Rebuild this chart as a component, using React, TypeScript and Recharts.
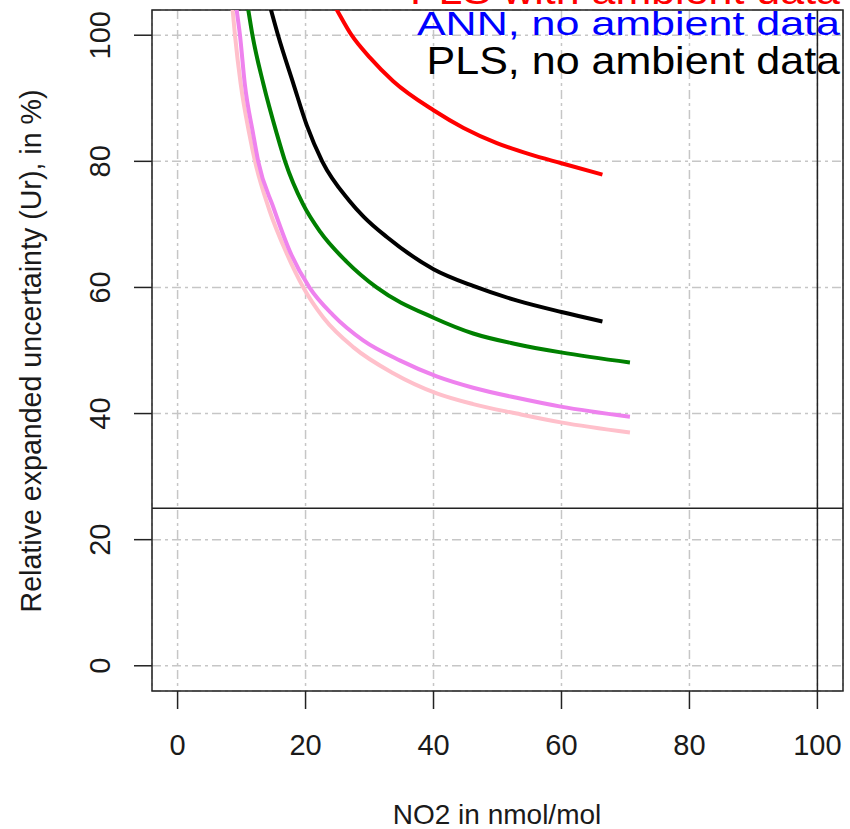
import React from "react";
import {
  LineChart, Line, XAxis, YAxis, CartesianGrid, ReferenceLine, ReferenceArea, Customized,
} from "recharts";

const FONT = "'Liberation Sans', Arial, sans-serif";

// axis ticks
const xTicks = [0, 20, 40, 60, 80, 100];
const yTicks = [0, 20, 40, 60, 80, 100];

// curves (NO2 in nmol/mol -> Ur in %)
const redX = [23, 24.9, 27.2, 30.1, 33.7, 40, 44.7, 49.9, 55.1, 60, 66.4];
const redY = [107.5, 104, 100, 96.4, 92.7, 88.1, 85.3, 82.9, 81.1, 79.7, 77.9];

const blackX = [13.5, 14.6, 15.7, 18.1, 20.2, 22.6, 26.8, 29.1, 32.7, 40, 46.3, 53.1, 60, 66.4];
const blackY = [108, 104, 100, 92.3, 85.7, 80, 73.8, 71.2, 68, 62.9, 60.2, 57.9, 56.1, 54.6];

const greenX = [10.3, 11.05, 11.7, 13.4, 15.5, 16.8, 19.6, 22.3, 26.4, 31.1, 40, 46.2, 53, 59.9, 70.7];
const greenY = [108.5, 104, 100, 92.3, 84.4, 80, 73.2, 68.8, 64.1, 60, 55.2, 52.7, 51, 49.7, 48.1];

const violetX = [8.8, 9.24, 9.75, 10.5, 11.8, 12.6, 15, 17.6, 20.6, 24.3, 29, 34.8, 40.5, 46.2, 53, 59.9, 70.7];
const violetY = [108, 104, 100, 92.3, 84.4, 80, 72.6, 65.6, 60, 55.6, 51.6, 48.4, 45.9, 44.1, 42.5, 41.1, 39.5];

const pinkX = [8.2, 8.6, 8.97, 9.86, 11.2, 12.1, 14.3, 17.05, 19.65, 22.8, 27.5, 33.7, 40.5, 46.2, 53, 59.9, 70.7];
const pinkY = [108, 104, 100, 92.3, 84.4, 80, 72.4, 65.4, 60, 55.2, 50.5, 46.4, 43.2, 41.5, 40, 38.6, 37];

const legendLabels = ["PLS with ambient data", "ANN, no ambient data", "PLS, no ambient data"];
const legendColors = ["#ff0000", "#0000ff", "#000000"];

const zip = (xs: number[], ys: number[]) => xs.map((x, i) => ({ x, y: ys[i] }));

const series = [
  { key: "pink", color: "#ffc0cb", data: zip(pinkX, pinkY) },
  { key: "violet", color: "#ee82ee", data: zip(violetX, violetY) },
  { key: "green", color: "#008000", data: zip(greenX, greenY) },
  { key: "black", color: "#000000", data: zip(blackX, blackY) },
  { key: "red", color: "#ff0000", data: zip(redX, redY) },
];

const XTick = (props: any) => {
  const { x, y, payload } = props;
  return (
    <text x={x} y={y + 46} textAnchor="middle" fontSize={29} fontFamily={FONT} fill="#1a1a1a">
      {payload.value}
    </text>
  );
};

const YTick = (props: any) => {
  const { x, y, payload } = props;
  const bx = x - 24;
  return (
    <text
      x={bx}
      y={y}
      transform={`rotate(-90 ${bx} ${y})`}
      textAnchor="middle"
      fontSize={29}
      fontFamily={FONT}
      fill="#1a1a1a"
    >
      {payload.value}
    </text>
  );
};

const Extras = () => {
  const baselines = [4, 35, 74];
  const squash = [0.92, 0.76, 0.92];
  return (
    <g>
      {legendLabels.map((t, i) => (
        <text
          key={t}
          x={840}
          y={baselines[i]}
          textAnchor="end"
          fontSize={43}
          fontFamily={FONT}
          fill={legendColors[i]}
          transform={`translate(0 ${baselines[i]}) scale(1 ${squash[i]}) translate(0 ${-baselines[i]})`}
        >
          {t}
        </text>
      ))}
      <text
        x={41}
        y={351}
        transform="rotate(-90 41 351)"
        textAnchor="middle"
        fontSize={28.6}
        fontFamily={FONT}
        fill="#1a1a1a"
      >
        Relative expanded uncertainty (Ur), in %)
      </text>
      <text x={497} y={824} textAnchor="middle" fontSize={28} fontFamily={FONT} fill="#1a1a1a">
        NO2 in nmol/mol
      </text>
    </g>
  );
};

export default function App() {
  return (
    <div style={{ position: "absolute", left: 0, top: 0, background: "#fff" }}>
      <LineChart width={850} height={829} margin={{ top: 10, right: 7, left: 0, bottom: 0 }}>
        <CartesianGrid stroke="#c6c6c6" strokeWidth={1.5} strokeDasharray="9 4 3 4" />
        <XAxis
          type="number"
          dataKey="x"
          domain={[-4, 104]}
          ticks={xTicks}
          allowDataOverflow
          height={138}
          axisLine={false}
          tickLine={{ stroke: "#222", strokeWidth: 1.5 }}
          tickSize={18}
          tickMargin={0}
          tick={<XTick />}
        />
        <YAxis
          type="number"
          dataKey="y"
          domain={[-4, 104]}
          ticks={yTicks}
          allowDataOverflow
          width={152}
          axisLine={false}
          tickLine={{ stroke: "#222", strokeWidth: 1.5 }}
          tickSize={18}
          tickMargin={0}
          tick={<YTick />}
        />
        {series.map((s) => (
          <Line
            key={s.key}
            data={s.data}
            dataKey="y"
            type="monotone"
            stroke={s.color}
            strokeWidth={4}
            dot={false}
            activeDot={false}
            isAnimationActive={false}
          />
        ))}
        <ReferenceLine y={25} stroke="#222" strokeWidth={1.5} />
        <ReferenceLine x={100} stroke="#222" strokeWidth={1.5} />
        <ReferenceArea x1={-4} x2={104} y1={-4} y2={104} fill="none" stroke="#222" strokeWidth={1.5} ifOverflow="visible" />
        <Customized component={Extras} />
      </LineChart>
    </div>
  );
}
